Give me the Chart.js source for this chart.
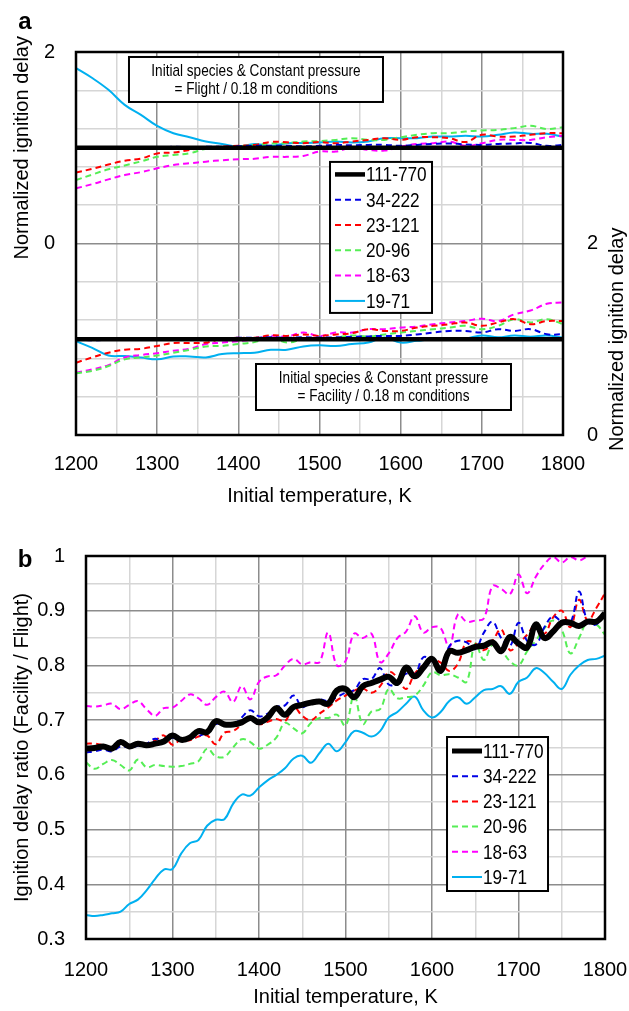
<!DOCTYPE html>
<html lang="en">
<head>
<meta charset="UTF-8">
<title>Ignition delay – Facility vs Flight</title>
<script src="https://cdn.jsdelivr.net/npm/chart.js@4"></script>
<style>
  body { margin: 0; background: #fff; }
  canvas { position: absolute; left: 0; }
  #panelA { top: 0; }
  #panelB { top: 510px; }
</style>
</head>
<body>
<canvas id="panelA" width="629" height="510"></canvas>
<canvas id="panelB" width="629" height="501"></canvas>

<script>
// ---- series names and styles ----
const seriesNames = ['111-770', '34-222', '23-121', '20-96', '18-63', '19-71'];
const seriesColors = ['#000000', '#0000e6', '#ff0000', '#55ee55', '#ff00ff', '#00b0f0'];
const seriesDash = [[], [6, 4], [6, 4], [6, 4], [6, 4], []];

// ---- panel a: normalized ignition delay (temperature step 20 K) ----
const tempsA = [1200, 1220, 1240, 1260, 1280, 1300, 1320, 1340, 1360, 1380, 1400,
  1420, 1440, 1460, 1480, 1500, 1520, 1540, 1560, 1580, 1600,
  1620, 1640, 1660, 1680, 1700, 1720, 1740, 1760, 1780, 1800];

// upper group: flight / 0.18 m conditions (left axis)
const flight111 = [1, 1, 1, 1, 1, 1, 1, 1, 1, 1, 1, 1, 1, 1, 1, 1,
  1, 1, 1, 1, 1, 1, 1, 1, 1, 1, 1, 1, 1, 1, 1];
const flight34 = [1.0, 1.0, 1.0, 1.0, 1.0, 1.0, 1.01, 1.005, 1.01, 1.01, 1.015,
  1.02, 1.02, 1.02, 1.015, 1.02, 1.03, 1.025, 1.03, 1.03, 1.02,
  1.03, 1.04, 1.045, 1.035, 1.03, 1.04, 1.045, 1.05, 1.02, 1.03];
const flight23 = [0.74, 0.78, 0.825, 0.865, 0.887, 0.94, 0.95, 0.977, 1.0, 1.012, 1.02,
  1.03, 1.06, 1.057, 1.048, 1.06, 1.047, 1.065, 1.082, 1.10, 1.082,
  1.11, 1.11, 1.10, 1.06, 1.135, 1.117, 1.117, 1.135, 1.152, 1.152];
const flight20 = [0.663, 0.72, 0.775, 0.815, 0.857, 0.905, 0.925, 0.942, 0.99, 1.005, 1.015,
  1.03, 1.045, 1.05, 1.065, 1.07, 1.082, 1.10, 1.082, 1.082, 1.11,
  1.135, 1.152, 1.152, 1.17, 1.18, 1.187, 1.205, 1.23, 1.195, 1.215];
const flight18 = [0.576, 0.62, 0.67, 0.715, 0.745, 0.785, 0.82, 0.838, 0.855, 0.87, 0.88,
  0.885, 0.905, 0.905, 0.915, 0.96, 0.96, 1.0, 0.977, 0.97, 1.012,
  1.04, 1.047, 1.065, 1.02, 1.047, 1.082, 1.082, 1.082, 1.11, 1.125];
const flight19 = [1.832, 1.728, 1.605, 1.448, 1.343, 1.228, 1.152, 1.11, 1.065, 1.04, 1.012,
  1.04, 1.02, 1.047, 1.05, 1.055, 1.065, 1.055, 1.065, 1.10, 1.10,
  1.10, 1.117, 1.117, 1.125, 1.117, 1.135, 1.16, 1.145, 1.145, 1.117];

// lower group: facility / 0.18 m conditions (right axis)
const facility111 = [1, 1, 1, 1, 1, 1, 1, 1, 1, 1, 1, 1, 1, 1, 1, 1,
  1, 1, 1, 1, 1, 1, 1, 1, 1, 1, 1, 1, 1, 1, 1];
const facility34 = [1.0, 0.99, 0.995, 1.0, 1.0, 0.995, 1.0, 1.005, 1.01, 1.01, 1.015,
  1.015, 1.02, 1.015, 1.02, 1.017, 1.02, 1.025, 1.03, 1.035, 1.035,
  1.05, 1.07, 1.087, 1.087, 1.07, 1.105, 1.087, 1.105, 1.052, 1.052];
const facility23 = [0.755, 0.81, 0.86, 0.89, 0.90, 0.93, 0.96, 0.96, 0.965, 1.005, 1.015,
  1.015, 1.04, 1.035, 1.05, 1.035, 1.05, 1.063, 1.105, 1.087, 1.087,
  1.122, 1.14, 1.157, 1.175, 1.14, 1.175, 1.21, 1.157, 1.19, 1.19];
const facility20 = [0.645, 0.67, 0.72, 0.79, 0.81, 0.83, 0.86, 0.89, 0.925, 0.93, 0.95,
  0.97, 1.015, 0.965, 1.0, 1.0, 1.017, 1.04, 1.03, 1.05, 1.07,
  1.087, 1.105, 1.122, 1.14, 1.105, 1.14, 1.21, 1.175, 1.21, 1.157];
const facility18 = [0.65, 0.685, 0.73, 0.81, 0.835, 0.855, 0.88, 0.90, 0.95, 0.965, 0.98,
  1.0, 1.035, 1.03, 1.07, 1.035, 1.07, 1.07, 1.105, 1.105, 1.122,
  1.133, 1.157, 1.175, 1.19, 1.215, 1.19, 1.26, 1.30, 1.37, 1.385];
const facility19 = [0.98, 0.91, 0.83, 0.825, 0.81, 0.79, 0.82, 0.82, 0.81, 0.845, 0.855,
  0.86, 0.89, 0.89, 0.925, 0.937, 0.93, 0.95, 0.965, 1.017, 0.965,
  0.983, 1.0, 1.0, 1.007, 1.04, 1.02, 1.04, 1.027, 1.04, 1.017];

// ---- panel b: ignition delay ratio facility / flight (temperature step 10 K) ----
const tempsB = [1200, 1210, 1220, 1230, 1240, 1250, 1260, 1270, 1280, 1290,
  1300, 1310, 1320, 1330, 1340, 1350, 1360, 1370, 1380, 1390,
  1400, 1410, 1420, 1430, 1440, 1450, 1460, 1470, 1480, 1490,
  1500, 1510, 1520, 1530, 1540, 1550, 1560, 1570, 1580, 1590,
  1600, 1610, 1620, 1630, 1640, 1650, 1660, 1670, 1680, 1690,
  1700, 1710, 1720, 1730, 1740, 1750, 1760, 1770, 1780, 1790, 1800];

const ratio111 = [0.648, 0.649, 0.652, 0.648, 0.660, 0.652, 0.657, 0.654, 0.657, 0.661,
  0.672, 0.664, 0.668, 0.680, 0.678, 0.698, 0.692, 0.692, 0.696, 0.704,
  0.696, 0.705, 0.722, 0.710, 0.724, 0.728, 0.732, 0.734, 0.730, 0.754,
  0.757, 0.742, 0.762, 0.768, 0.774, 0.779, 0.768, 0.796, 0.780, 0.796,
  0.812, 0.790, 0.826, 0.823, 0.828, 0.834, 0.836, 0.842, 0.826, 0.852,
  0.840, 0.833, 0.875, 0.850, 0.862, 0.878, 0.878, 0.872, 0.880, 0.880, 0.895];
const ratio34 = [0.641, 0.643, 0.646, 0.643, 0.652, 0.650, 0.653, 0.657, 0.666, 0.660,
  0.668, 0.663, 0.668, 0.671, 0.678, 0.693, 0.692, 0.690, 0.705, 0.718,
  0.707, 0.712, 0.724, 0.727, 0.745, 0.724, 0.733, 0.738, 0.735, 0.742,
  0.750, 0.755, 0.775, 0.775, 0.795, 0.765, 0.768, 0.785, 0.783, 0.815,
  0.808, 0.790, 0.835, 0.845, 0.842, 0.830, 0.860, 0.880, 0.850, 0.835,
  0.878, 0.845, 0.838, 0.870, 0.890, 0.880, 0.878, 0.935, 0.880, 0.875, 0.900];
const ratio23 = [0.657, 0.657, 0.654, 0.650, 0.657, 0.652, 0.655, 0.657, 0.663, 0.672,
  0.655, 0.665, 0.663, 0.670, 0.672, 0.656, 0.677, 0.680, 0.692, 0.705,
  0.693, 0.697, 0.702, 0.698, 0.724, 0.708, 0.700, 0.712, 0.723, 0.736,
  0.745, 0.754, 0.758, 0.750, 0.762, 0.788, 0.778, 0.757, 0.785, 0.800,
  0.810, 0.805, 0.790, 0.803, 0.843, 0.840, 0.828, 0.845, 0.866, 0.828,
  0.840, 0.856, 0.875, 0.858, 0.888, 0.900, 0.870, 0.920, 0.882, 0.905, 0.932];
const ratio20 = [0.623, 0.611, 0.620, 0.627, 0.618, 0.608, 0.628, 0.614, 0.618, 0.616,
  0.615, 0.616, 0.620, 0.625, 0.648, 0.634, 0.633, 0.650, 0.665, 0.660,
  0.648, 0.655, 0.668, 0.695, 0.685, 0.676, 0.695, 0.704, 0.704, 0.710,
  0.690, 0.745, 0.693, 0.716, 0.720, 0.757, 0.740, 0.742, 0.745, 0.763,
  0.788, 0.782, 0.784, 0.778, 0.770, 0.840, 0.810, 0.838, 0.828, 0.808,
  0.800, 0.826, 0.845, 0.868, 0.882, 0.865, 0.822, 0.850, 0.880, 0.875, 0.856];
const ratio18 = [0.726, 0.725, 0.727, 0.730, 0.720, 0.728, 0.735, 0.720, 0.708, 0.722,
  0.723, 0.735, 0.747, 0.740, 0.728, 0.742, 0.752, 0.733, 0.762, 0.738,
  0.770, 0.780, 0.782, 0.800, 0.812, 0.802, 0.806, 0.806, 0.860, 0.800,
  0.808, 0.858, 0.850, 0.858, 0.806, 0.822, 0.850, 0.862, 0.890, 0.860,
  0.870, 0.868, 0.833, 0.893, 0.880, 0.882, 0.886, 0.945, 0.940, 0.930,
  0.966, 0.932, 0.962, 0.985, 0.998, 0.988, 0.998, 0.992, 1.0, 1.01, 1.02];
const ratio19 = [0.344, 0.342, 0.344, 0.347, 0.350, 0.364, 0.372, 0.389, 0.410, 0.427,
  0.428, 0.456, 0.475, 0.481, 0.507, 0.518, 0.519, 0.547, 0.564, 0.562,
  0.577, 0.590, 0.600, 0.612, 0.630, 0.635, 0.622, 0.640, 0.657, 0.643,
  0.660, 0.680, 0.677, 0.670, 0.680, 0.705, 0.715, 0.730, 0.743, 0.718,
  0.705, 0.715, 0.735, 0.742, 0.730, 0.742, 0.755, 0.757, 0.762, 0.748,
  0.770, 0.778, 0.795, 0.786, 0.770, 0.757, 0.783, 0.800, 0.810, 0.812, 0.818];

const FONT = "'Liberation Sans', Arial, sans-serif";
const GRID_MAJOR = '#8c8c8c';
const GRID_MINOR = '#d6d6d6';

function points(xs, ys) {
  return ys.map((y, i) => ({ x: xs[i], y: y }));
}

function makeSet(i, xs, ys, axis, thick) {
  return {
    label: seriesNames[i],
    data: points(xs, ys),
    yAxisID: axis,
    borderColor: seriesColors[i],
    borderDash: seriesDash[i],
    borderWidth: i === 0 ? thick : 2,
    pointRadius: 0,
    tension: 0.4,
    fill: false
  };
}

// narrow lettering: regular face squeezed horizontally
function narrowText(ctx, text, x, y, size, squeeze) {
  ctx.save();
  ctx.translate(x, y);
  ctx.scale(squeeze, 1);
  ctx.font = size + 'px ' + FONT;
  ctx.fillText(text, 0, 0);
  ctx.restore();
}

// black frame round the plot area
const frame = {
  id: 'frame',
  afterDatasetsDraw(chart) {
    const { ctx, chartArea: a } = chart;
    ctx.save();
    ctx.strokeStyle = '#000';
    ctx.lineWidth = 2.5;
    ctx.strokeRect(a.left, a.top, a.right - a.left, a.bottom - a.top);
    ctx.restore();
  }
};

// legend box placed inside the plot area
const boxLegend = {
  id: 'boxLegend',
  afterDraw(chart, args, o) {
    const { ctx, chartArea: a } = chart;
    const left = a.left + o.x * (a.right - a.left);
    const top = a.top + o.y * (a.bottom - a.top);
    ctx.save();
    ctx.fillStyle = '#fff';
    ctx.fillRect(left, top, o.width, o.height);
    ctx.strokeStyle = '#000';
    ctx.lineWidth = 2;
    ctx.strokeRect(left, top, o.width, o.height);
    ctx.textBaseline = 'middle';
    ctx.textAlign = 'left';
    chart.data.datasets.slice(0, o.count).forEach((ds, i) => {
      const cy = top + o.rowTop + i * o.rowHeight;
      ctx.beginPath();
      ctx.strokeStyle = ds.borderColor;
      ctx.lineWidth = Math.min(ds.borderWidth, 5);
      ctx.setLineDash(ds.borderDash);
      ctx.moveTo(left + 5, cy);
      ctx.lineTo(left + 35, cy);
      ctx.stroke();
      ctx.setLineDash([]);
      ctx.fillStyle = '#000';
      narrowText(ctx, ds.label, left + 36, cy + 1, 21, 0.82);
    });
    ctx.restore();
  }
};

// boxed annotations
const notes = {
  id: 'notes',
  afterDraw(chart, args, o) {
    const { ctx, chartArea: a } = chart;
    ctx.save();
    (o.items || []).forEach(n => {
      const left = a.left + n.x * (a.right - a.left);
      const top = a.top + n.y * (a.bottom - a.top);
      ctx.fillStyle = '#fff';
      ctx.fillRect(left, top, n.width, n.height);
      ctx.strokeStyle = '#000';
      ctx.lineWidth = 2;
      ctx.strokeRect(left, top, n.width, n.height);
      ctx.fillStyle = '#000';
      ctx.textAlign = 'center';
      ctx.textBaseline = 'middle';
      n.lines.forEach((t, k) => {
        narrowText(ctx, t, left + n.width / 2, top + 14 + k * 18, 17, 0.8);
      });
    });
    ctx.restore();
  }
};

// panel letter and axis titles that cover only part of an axis
const extras = {
  id: 'extras',
  afterDraw(chart, args, o) {
    const { ctx } = chart;
    ctx.save();
    ctx.fillStyle = '#000';
    ctx.textAlign = 'center';
    ctx.textBaseline = 'middle';
    if (o.tag) {
      ctx.font = 'bold 24px ' + FONT;
      ctx.fillText(o.tag.text, o.tag.x, o.tag.y);
    }
    (o.sideTitles || []).forEach(t => {
      const s = chart.scales[t.scale];
      const cy = (s.getPixelForValue(t.from) + s.getPixelForValue(t.to)) / 2;
      ctx.save();
      ctx.translate(t.x, cy);
      ctx.rotate(-Math.PI / 2);
      ctx.font = '20px ' + FONT;
      ctx.fillText(t.text, 0, 0);
      ctx.restore();
    });
    ctx.restore();
  }
};

const tickFont = { family: FONT, size: 20 };
const isWhole = v => Number.isInteger(Math.round(v * 10) / 10);
const isTenth = v => Math.round(v * 100) % 10 === 0;

function xScale(height, labelPad) {
  return {
    type: 'linear', min: 1200, max: 1800,
    ticks: {
      stepSize: 50, autoSkip: false, maxRotation: 0, color: '#000', font: tickFont, padding: labelPad,
      callback: v => (v % 100 === 0 ? String(v) : '')
    },
    grid: { color: c => (c.tick.value % 100 === 0 ? GRID_MAJOR : GRID_MINOR), lineWidth: 1.5, drawTicks: false },
    border: { display: false },
    title: { display: true, text: 'Initial temperature, K', color: '#000', font: { family: FONT, size: 20 }, padding: { top: 0, bottom: 2 } },
    afterFit(s) {
      s.height = height;
      s.paddingLeft = 0;
      s.paddingRight = 0;
    }
  };
}

// ---- panel a ----
const dsA = [
  makeSet(0, tempsA, flight111, 'y', 4.5),
  makeSet(1, tempsA, flight34, 'y', 4.5),
  makeSet(2, tempsA, flight23, 'y', 4.5),
  makeSet(3, tempsA, flight20, 'y', 4.5),
  makeSet(4, tempsA, flight18, 'y', 4.5),
  makeSet(5, tempsA, flight19, 'y', 4.5),
  makeSet(0, tempsA, facility111, 'y2', 4.5),
  makeSet(1, tempsA, facility34, 'y2', 4.5),
  makeSet(2, tempsA, facility23, 'y2', 4.5),
  makeSet(3, tempsA, facility20, 'y2', 4.5),
  makeSet(4, tempsA, facility18, 'y2', 4.5),
  makeSet(5, tempsA, facility19, 'y2', 4.5)
];
// black references go on top of each group
dsA[0].order = -1;
dsA[6].order = -1;

new Chart(document.getElementById('panelA'), {
  type: 'line',
  data: { datasets: dsA },
  plugins: [frame, boxLegend, notes, extras],
  options: {
    responsive: false,
    animation: false,
    layout: { padding: { top: 52, left: 0, right: 0, bottom: 0 } },
    plugins: {
      legend: { display: false },
      tooltip: { enabled: false },
      boxLegend: { x: 0.5216, y: 0.287, width: 102, height: 151, rowTop: 12.5, rowHeight: 25.3, count: 6 },
      notes: {
        items: [
          { x: 0.1088, y: 0.013, width: 254, height: 45, lines: ['Initial species & Constant pressure', '= Flight / 0.18 m conditions'] },
          { x: 0.3696, y: 0.8146, width: 255, height: 46, lines: ['Initial species & Constant pressure', '= Facility / 0.18 m conditions'] }
        ]
      },
      extras: {
        tag: { text: 'a', x: 25, y: 22 },
        sideTitles: [
          { text: 'Normalized ignition delay', scale: 'y', from: 0, to: 2, x: 22 },
          { text: 'Normalized ignition delay', scale: 'y2', from: 0, to: 2, x: 617 }
        ]
      }
    },
    scales: {
      x: xScale(75, 17),
      y: {
        position: 'left', min: -2, max: 2,
        ticks: {
          stepSize: 0.2, color: '#000', font: tickFont, padding: 21,
          callback: v => (isWhole(v) && v > -0.01 ? String(Math.round(v)) : '')
        },
        grid: { color: c => (isWhole(c.tick.value) ? GRID_MAJOR : GRID_MINOR), lineWidth: 1.5, drawTicks: false },
        border: { display: false },
        afterFit(s) { s.width = 76; }
      },
      y2: {
        position: 'right', min: 0, max: 4,
        ticks: {
          stepSize: 0.2, color: '#000', font: tickFont, padding: 24,
          callback: v => (isWhole(v) && v < 2.01 ? String(Math.round(v)) : '')
        },
        grid: { drawOnChartArea: false, drawTicks: false },
        border: { display: false },
        afterFit(s) { s.width = 66; }
      }
    }
  }
});

// ---- panel b ----
const dsB = [
  makeSet(0, tempsB, ratio111, 'y', 6),
  makeSet(1, tempsB, ratio34, 'y', 6),
  makeSet(2, tempsB, ratio23, 'y', 6),
  makeSet(3, tempsB, ratio20, 'y', 6),
  makeSet(4, tempsB, ratio18, 'y', 6),
  makeSet(5, tempsB, ratio19, 'y', 6)
];

new Chart(document.getElementById('panelB'), {
  type: 'line',
  data: { datasets: dsB },
  plugins: [frame, boxLegend, extras],
  options: {
    responsive: false,
    animation: false,
    layout: { padding: { top: 46, left: 0, right: 24, bottom: 0 } },
    plugins: {
      legend: { display: false },
      tooltip: { enabled: false },
      boxLegend: { x: 0.6956, y: 0.4726, width: 101, height: 154, rowTop: 14, rowHeight: 25.2, count: 6 },
      extras: { tag: { text: 'b', x: 25, y: 50 } }
    },
    scales: {
      x: xScale(72, 19),
      y: {
        position: 'left', min: 0.3, max: 1,
        ticks: {
          stepSize: 0.05, color: '#000', font: tickFont, padding: 21,
          callback: v => (isTenth(v) ? (Math.round(v * 10) / 10).toString() : '')
        },
        grid: { color: c => (isTenth(c.tick.value) ? GRID_MAJOR : GRID_MINOR), lineWidth: 1.5, drawTicks: false },
        border: { display: false },
        title: { display: true, text: 'Ignition delay ratio (Facility / Flight)', color: '#000', font: { family: FONT, size: 20 }, padding: { top: 10, bottom: 0 } },
        afterFit(s) { s.width = 86; }
      }
    }
  }
});
</script>
</body>
</html>
